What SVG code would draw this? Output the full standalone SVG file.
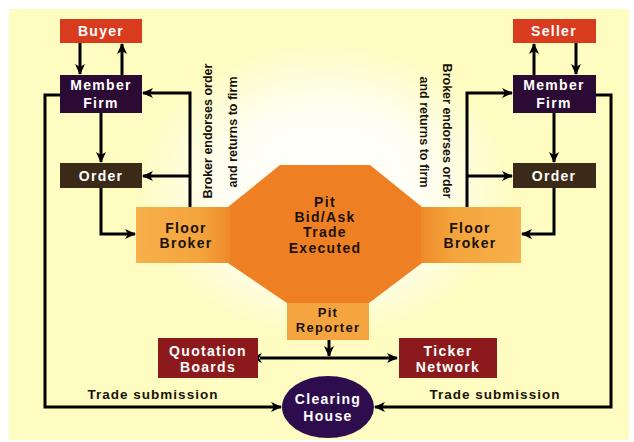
<svg xmlns="http://www.w3.org/2000/svg" width="634" height="442" viewBox="0 0 634 442">
<defs>
  <radialGradient id="glow" cx="0.5" cy="0.5" r="0.5">
    <stop offset="0" stop-color="#ffffff" stop-opacity="1"/>
    <stop offset="0.55" stop-color="#ffffff" stop-opacity="0.8"/>
    <stop offset="1" stop-color="#ffffff" stop-opacity="0"/>
  </radialGradient>
  <linearGradient id="fbL" x1="0" y1="0" x2="1" y2="0">
    <stop offset="0" stop-color="#f7b04c"/>
    <stop offset="0.7" stop-color="#f4a43c"/>
    <stop offset="1" stop-color="#ee8a2a"/>
  </linearGradient>
  <linearGradient id="fbR" x1="1" y1="0" x2="0" y2="0">
    <stop offset="0" stop-color="#f7b04c"/>
    <stop offset="0.7" stop-color="#f4a43c"/>
    <stop offset="1" stop-color="#ee8a2a"/>
  </linearGradient>
  <marker id="ah" markerWidth="12" markerHeight="12" refX="10" refY="6" orient="auto" markerUnits="userSpaceOnUse">
    <path d="M0,1 L11,6 L0,11 L3,6 Z" fill="#000"/>
  </marker>
  <marker id="as" markerWidth="12" markerHeight="12" refX="2" refY="6" orient="auto-start-reverse" markerUnits="userSpaceOnUse">
    <path d="M0,1 L11,6 L0,11 L3,6 Z" fill="#000"/>
  </marker>
</defs>
<style>
  .lbl { font-family: "Liberation Sans", "DejaVu Sans", sans-serif; font-weight: bold; font-size: 14px; letter-spacing: 1.3px; text-anchor: middle; }
  .sm { font-size: 13px; }
  .w { fill: #ffffff; }
  .k { fill: #1a1208; }
  .c { fill: none; stroke: #000; stroke-width: 3; }
  .side { font-family: "Liberation Sans", "DejaVu Sans", sans-serif; font-weight: bold; font-size: 12.5px; text-anchor: middle; fill: #1a1208; }
  .sub { font-family: "Liberation Sans", "DejaVu Sans", sans-serif; font-weight: bold; font-size: 13.5px; letter-spacing: 1px; text-anchor: middle; fill: #1a1208; }
</style>
<rect x="0" y="0" width="634" height="442" fill="#ffffff"/>
<rect x="9" y="9" width="620" height="431" fill="#fefcc0"/>
<ellipse cx="325" cy="190" rx="190" ry="150" fill="url(#glow)"/>

<g id="connectors">
  <line class="c" x1="80" y1="43" x2="80" y2="74" marker-end="url(#ah)"/>
  <line class="c" x1="122" y1="75" x2="122" y2="44" marker-end="url(#ah)"/>
  <line class="c" x1="101" y1="113" x2="101" y2="162" marker-end="url(#ah)"/>
  <polyline class="c" points="190,207 190,93 143,93" marker-end="url(#ah)"/>
  <line class="c" x1="190" y1="176" x2="143" y2="176" marker-end="url(#ah)"/>
  <polyline class="c" points="101,188 101,234 135,234" marker-end="url(#ah)"/>
  <polyline class="c" points="60,95 45,95 45,407 281,407" marker-end="url(#ah)"/>

  <line class="c" x1="576" y1="43" x2="576" y2="74" marker-end="url(#ah)"/>
  <line class="c" x1="534" y1="75" x2="534" y2="44" marker-end="url(#ah)"/>
  <line class="c" x1="554" y1="113" x2="554" y2="162" marker-end="url(#ah)"/>
  <polyline class="c" points="467,207 467,93 512,93" marker-end="url(#ah)"/>
  <line class="c" x1="467" y1="176" x2="512" y2="176" marker-end="url(#ah)"/>
  <polyline class="c" points="554,188 554,234 522,234" marker-end="url(#ah)"/>
  <polyline class="c" points="596,95 611,95 611,407 375,407" marker-end="url(#ah)"/>

  <line class="c" x1="329" y1="340" x2="329" y2="356" marker-end="url(#ah)"/>
  <line class="c" x1="260" y1="358" x2="397" y2="358" marker-start="url(#as)" marker-end="url(#ah)"/>
</g>

<g id="pit">
  <polygon points="280,165 370,165 422,207 422,263 369,303 287,303 228,263 228,207" fill="#ee7f22"/>
  <text class="lbl k" x="325" y="207">Pit</text>
  <text class="lbl k" x="325" y="222">Bid/Ask</text>
  <text class="lbl k" x="325" y="237">Trade</text>
  <text class="lbl k" x="325" y="253">Executed</text>
</g>

<g id="buyer">
  <rect x="60" y="19" width="82" height="24" fill="#d93b1f"/>
  <text class="lbl w" x="101" y="36">Buyer</text>
</g>
<g id="member-left">
  <rect x="60" y="75" width="82" height="38" fill="#2b0a33"/>
  <text class="lbl w" x="101" y="90">Member</text>
  <text class="lbl w" x="101" y="108">Firm</text>
</g>
<g id="order-left">
  <rect x="60" y="163" width="82" height="25" fill="#3b2a18"/>
  <text class="lbl w" x="101" y="181">Order</text>
</g>
<g id="floor-left">
  <rect x="136" y="207" width="94" height="56" fill="url(#fbL)"/>
  <text class="lbl k" x="186" y="233">Floor</text>
  <text class="lbl k" x="186" y="248">Broker</text>
</g>

<g id="seller">
  <rect x="513" y="19" width="83" height="24" fill="#d93b1f"/>
  <text class="lbl w" x="554" y="36">Seller</text>
</g>
<g id="member-right">
  <rect x="513" y="75" width="83" height="38" fill="#2b0a33"/>
  <text class="lbl w" x="554" y="90">Member</text>
  <text class="lbl w" x="554" y="108">Firm</text>
</g>
<g id="order-right">
  <rect x="513" y="163" width="83" height="25" fill="#3b2a18"/>
  <text class="lbl w" x="554" y="181">Order</text>
</g>
<g id="floor-right">
  <rect x="421" y="207" width="100" height="56" fill="url(#fbR)"/>
  <text class="lbl k" x="470" y="233">Floor</text>
  <text class="lbl k" x="470" y="248">Broker</text>
</g>

<g id="pit-reporter">
  <rect x="287" y="303" width="82" height="37" fill="#f5a53f"/>
  <text class="lbl sm k" x="328" y="317">Pit</text>
  <text class="lbl sm k" x="328" y="332">Reporter</text>
</g>
<g id="quotation">
  <rect x="158" y="338" width="100" height="40" fill="#8c1a1c"/>
  <text class="lbl w" x="208" y="356">Quotation</text>
  <text class="lbl w" x="208" y="372">Boards</text>
</g>
<g id="ticker">
  <rect x="399" y="338" width="98" height="40" fill="#8c1a1c"/>
  <text class="lbl w" x="448" y="356">Ticker</text>
  <text class="lbl w" x="448" y="372">Network</text>
</g>
<g id="clearing">
  <ellipse cx="328" cy="407" rx="46" ry="31" fill="#2e0d4e"/>
  <text class="lbl w" x="328" y="404">Clearing</text>
  <text class="lbl w" x="328" y="421">House</text>
</g>

<g id="labels">
  <text class="side" transform="translate(212,131) rotate(-90)">Broker endorses order</text>
  <text class="side" transform="translate(237,132) rotate(-90)">and returns to firm</text>
  <text class="side" transform="translate(443,131) rotate(90)">Broker endorses order</text>
  <text class="side" transform="translate(420,132) rotate(90)">and returns to firm</text>
  <text class="sub" x="153" y="399">Trade submission</text>
  <text class="sub" x="495" y="399">Trade submission</text>
</g>
</svg>
